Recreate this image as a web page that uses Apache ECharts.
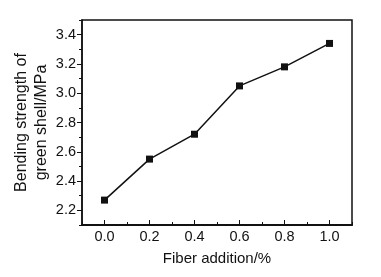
<!DOCTYPE html>
<html>
<head>
<meta charset="utf-8">
<script src="https://cdn.jsdelivr.net/npm/echarts@6/dist/echarts.min.js"></script>
<style>
  html, body { margin: 0; padding: 0; background: #fff; }
  #chart { width: 381px; height: 277px; }
</style>
</head>
<body>
<div id="chart"></div>
<script>
    // fiber addition (%) vs bending strength (MPa)
    const fiberAddition = [0.0, 0.2, 0.4, 0.6, 0.8, 1.0];
    const bendingStrength = [2.27, 2.55, 2.72, 3.05, 3.18, 3.34];
    const xTickValues = [0.0, 0.2, 0.4, 0.6, 0.8, 1.0];
    const yTickValues = [2.2, 2.4, 2.6, 2.8, 3.0, 3.2, 3.4];

    const font = 'Liberation Sans, Arial, sans-serif';
    const ink = '#111';

    let chart = echarts.init(document.getElementById('chart'), null, { renderer: 'canvas' });

    const options = {
        animation: false,
        grid: {
            left: 82,
            top: 20,
            right: 29,
            bottom: 52,
            show: true,
            borderColor: ink,
            borderWidth: 1.5
        },
        xAxis: [
            {
                type: 'value',
                min: -0.1,
                max: 1.1,
                interval: 0.1,
                name: 'Fiber addition/%',
                nameLocation: 'middle',
                nameGap: 26,
                nameTextStyle: { color: ink, fontFamily: font, fontSize: 15 },
                axisLine: { show: true, onZero: false, lineStyle: { color: ink, width: 2 } },
                axisTick: { show: true, inside: true, length: 3, lineStyle: { color: ink, width: 1 } },
                axisLabel: {
                    color: ink,
                    fontFamily: font,
                    fontSize: 14.5,
                    margin: 4,
                    customValues: xTickValues,
                    formatter: function (v) { return v.toFixed(1); }
                },
                splitLine: { show: false }
            },
            {
                type: 'value',
                min: -0.1,
                max: 1.1,
                position: 'bottom',
                axisLine: { show: false, onZero: false },
                axisTick: { show: true, inside: true, length: 5, customValues: xTickValues, lineStyle: { color: ink, width: 1 } },
                axisLabel: { show: false },
                splitLine: { show: false }
            }
        ],
        yAxis: [
            {
                type: 'value',
                min: 2.1,
                max: 3.5,
                interval: 0.1,
                name: 'Bending strength of\ngreen shell/MPa',
                nameLocation: 'middle',
                nameGap: 30,
                nameMoveOverlap: false,
                nameTextStyle: { color: ink, fontFamily: font, fontSize: 16, lineHeight: 20 },
                axisLine: { show: true, onZero: false, lineStyle: { color: ink, width: 1.5 } },
                axisTick: { show: true, inside: false, length: 3, lineStyle: { color: ink, width: 1 } },
                axisLabel: {
                    color: ink,
                    fontFamily: font,
                    fontSize: 14.5,
                    margin: 6,
                    customValues: yTickValues,
                    formatter: function (v) { return v.toFixed(1); }
                },
                splitLine: { show: false }
            },
            {
                type: 'value',
                min: 2.1,
                max: 3.5,
                position: 'left',
                axisLine: { show: false, onZero: false },
                axisTick: { show: true, inside: false, length: 5, customValues: yTickValues, lineStyle: { color: ink, width: 1 } },
                axisLabel: { show: false },
                splitLine: { show: false }
            }
        ],
        series: [
            {
                type: 'line',
                data: fiberAddition.map(function (x, i) { return [x, bendingStrength[i]]; }),
                symbol: 'rect',
                symbolSize: 7,
                lineStyle: { color: ink, width: 1.5 },
                itemStyle: { color: ink }
            }
        ]
    };

    chart.setOption(options, true);
</script>
</body>
</html>
